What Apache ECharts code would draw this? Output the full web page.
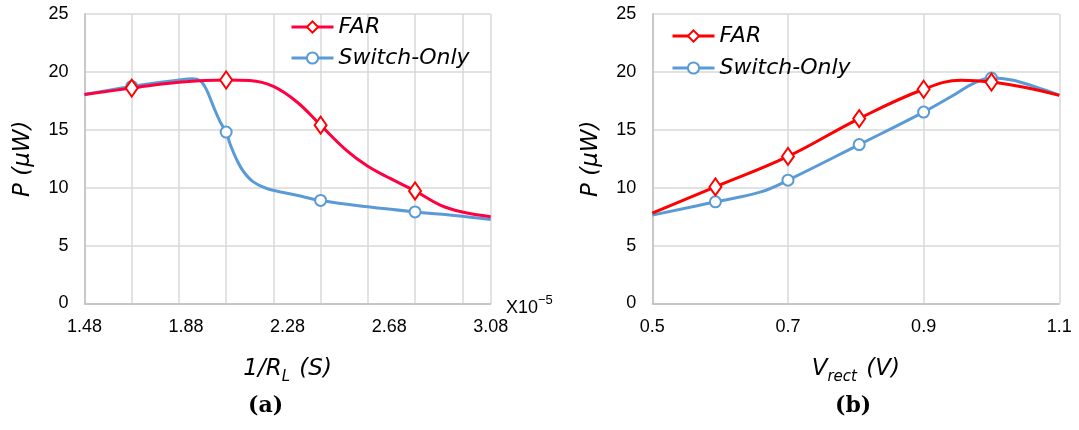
<!DOCTYPE html>
<html><head><meta charset="utf-8">
<script src="https://cdn.jsdelivr.net/npm/echarts@6/dist/echarts.min.js"></script>
<style>html,body{margin:0;padding:0;background:#fff}#c{width:1079px;height:430px}</style>
</head><body><div id="c"></div>
<script>
// ---------- data ----------
const seriesNames = ['FAR', 'Switch-Only'];
const yMin = 0, yMax = 25, yStep = 5;

// Panel (a): x = 1/R_L in units of 1e-5 S
const aTickLabels = [1.48, 1.88, 2.28, 2.68, 3.08];
const aGridLines = [1.48, 1.666, 1.852, 2.038, 2.224, 2.410, 2.596, 2.782, 2.968, 3.08];
const aFarX = [1.48, 1.666, 1.852, 2.038, 2.131, 2.224, 2.317, 2.410, 2.513, 2.596, 2.684, 2.782, 2.881, 2.968, 3.08];
const aFarY = [18.05, 18.6, 19.1, 19.3, 19.25, 18.75, 17.4, 15.4, 13.2, 11.85, 10.8, 9.72, 8.5, 7.9, 7.5];
const aFarMark = [0, 1, 0, 1, 0, 0, 0, 1, 0, 0, 0, 1, 0, 0, 0];
const aSwX = [1.48, 1.666, 1.852, 1.905, 1.935, 1.952, 1.968, 1.988, 2.014, 2.038, 2.053, 2.080, 2.106, 2.145, 2.198, 2.316, 2.410, 2.596, 2.782, 2.968, 3.08];
const aSwY = [18.05, 18.75, 19.3, 19.4, 19.25, 18.8, 18.1, 17.0, 15.7, 14.8, 13.8, 12.4, 11.4, 10.5, 9.93, 9.35, 8.9, 8.35, 7.91, 7.54, 7.26];
const aSwMark = [0, 1, 0, 0, 0, 0, 0, 0, 0, 1, 0, 0, 0, 0, 0, 0, 1, 0, 1, 0, 0];

// Panel (b): x = V_rect (V)
const bTickLabels = [0.5, 0.7, 0.9, 1.1];
const bFarX = [0.5, 0.593, 0.7, 0.805, 0.9, 0.955, 1.0, 1.05, 1.1];
const bFarY = [7.8, 10.07, 12.7, 15.97, 18.5, 19.27, 19.12, 18.65, 17.97];
const bFarMark = [0, 1, 1, 1, 1, 0, 1, 0, 0];
const bSwX = [0.5, 0.593, 0.66, 0.7, 0.805, 0.9, 0.94, 0.975, 1.0, 1.03, 1.065, 1.1];
const bSwY = [7.63, 8.78, 9.64, 10.65, 13.72, 16.53, 17.85, 19.05, 19.47, 19.3, 18.7, 18.0];
const bSwMark = [0, 1, 0, 1, 1, 1, 0, 0, 1, 0, 0, 0];

// ---------- build ----------
function pts(xs, ys, marks, sym) {
  return xs.map((x, i) => ({ value: [x, ys[i]], symbol: marks[i] ? sym : 'none' }));
}
const GRID = '#D9D9D9', AXIS = '#BFBFBF';
const RED_A = '#FF0040', RED = '#FF0000', BLUE = '#5B9BD5';
const italic = { fontFamily: 'DejaVu Sans', fontStyle: 'italic', color: '#000' };
const tickFont = { fontFamily: 'Liberation Sans', fontSize: 18, color: '#000' };

function xAxisCfg(grid, min, max, gridVals, labelVals, dec, nameRich) {
  return {
    gridIndex: grid, type: 'value', min: min, max: max,
    axisLine: { show: true, lineStyle: { color: AXIS, width: 1.5 } },
    axisTick: { show: false, customValues: gridVals },
    splitLine: { show: true, lineStyle: { color: GRID, width: 1.5 } },
    axisLabel: Object.assign({ customValues: labelVals, formatter: v => Number(v).toFixed(dec), margin: 15 }, tickFont),
    name: nameRich.text, nameLocation: 'middle', nameGap: 51,
    nameTextStyle: { rich: nameRich.rich }
  };
}
function yAxisCfg(grid) {
  return {
    gridIndex: grid, type: 'value', min: yMin, max: yMax, interval: yStep,
    axisLine: { show: true, lineStyle: { color: AXIS, width: 1.5 } },
    axisTick: { show: false },
    splitLine: { show: true, lineStyle: { color: GRID, width: 1.5 } },
    axisLabel: Object.assign({ margin: 16 }, tickFont),
    name: 'P (μW)', nameLocation: 'middle', nameGap: 50,
    nameTextStyle: Object.assign({ fontSize: 23 }, italic)
  };
}
const richBase = {
  i: Object.assign({ fontSize: 23, lineHeight: 30, verticalAlign: 'middle' }, italic),
  s: Object.assign({ fontSize: 15, lineHeight: 30, verticalAlign: 'bottom', padding: [0, 2, 0, 0] }, italic)
};

function lineSeries(name, xi, data, lineColor, markColor, sym, size, z) {
  return {
    type: 'line', name: name, xAxisIndex: xi, yAxisIndex: xi, data: data,
    smooth: 0.4, symbol: sym, symbolSize: size, z: z,
    lineStyle: { color: lineColor, width: 3 },
    itemStyle: { color: markColor, borderWidth: 1.6 },
    emphasis: { disabled: true }
  };
}

const legendBase = {
  orient: 'vertical', padding: 0, itemWidth: 42, itemHeight: 14,
  lineStyle: { width: 3 },
  textStyle: Object.assign({ fontSize: 22, lineHeight: 22 }, italic),
  selectedMode: false
};

const option = {
  animation: false,
  backgroundColor: '#fff',
  grid: [
    { left: 84.5, top: 14, width: 406.2, height: 289.5, containLabel: false, outerBoundsMode: 'none' },
    { left: 652.3, top: 14, width: 407, height: 289.5, containLabel: false, outerBoundsMode: 'none' }
  ],
  xAxis: [
    xAxisCfg(0, 1.48, 3.08, aGridLines, aTickLabels, 2, { text: '{i|1/R}{s|L}{i| (S)}', rich: richBase }),
    xAxisCfg(1, 0.5, 1.1, bTickLabels, bTickLabels, 1, { text: '{i|V}{s|rect}{i| (V)}', rich: richBase })
  ],
  yAxis: [yAxisCfg(0), yAxisCfg(1)],
  legend: [
    Object.assign({}, legendBase, {
      left: 290, top: 16, itemGap: 9,
      data: seriesNames.map(n => ({ name: n, lineStyle: { width: 3 } }))
    }),
    Object.assign({}, legendBase, {
      left: 671, top: 25, itemGap: 10,
      data: [{ name: seriesNames[0], lineStyle: { color: RED, width: 3 } }, { name: seriesNames[1], lineStyle: { width: 3 } }]
    })
  ],
  title: [
    { text: '(a)', left: 248, top: 395, padding: 0, textStyle: { fontFamily: 'DejaVu Serif', fontWeight: 'bold', fontSize: 22, color: '#000' } },
    { text: '(b)', left: 835, top: 395, padding: 0, textStyle: { fontFamily: 'DejaVu Serif', fontWeight: 'bold', fontSize: 22, color: '#000' } }
  ],
  graphic: [
    {
      type: 'text', left: 506, top: 294,
      style: {
        text: '{a|X10}{b|−5}',
        rich: {
          a: { fontFamily: 'Liberation Sans', fontSize: 18, lineHeight: 28, verticalAlign: 'bottom', fill: '#000' },
          b: { fontFamily: 'Liberation Sans', fontSize: 13, lineHeight: 28, verticalAlign: 'middle', fill: '#000', padding: [0, 0, 6, 0] }
        }
      }
    }
  ],
  series: [
    lineSeries(seriesNames[1], 0, pts(aSwX, aSwY, aSwMark, 'emptyCircle'), BLUE, BLUE, 'emptyCircle', 11, 2),
    lineSeries(seriesNames[0], 0, pts(aFarX, aFarY, aFarMark, 'emptyDiamond'), RED_A, RED, 'emptyDiamond', [12, 17], 3),
    lineSeries(seriesNames[1], 1, pts(bSwX, bSwY, bSwMark, 'emptyCircle'), BLUE, BLUE, 'emptyCircle', 11, 2),
    lineSeries(seriesNames[0], 1, pts(bFarX, bFarY, bFarMark, 'emptyDiamond'), RED, RED, 'emptyDiamond', [12, 17], 3)
  ]
};
const chart = echarts.init(document.getElementById('c'), null, { renderer: 'canvas' });
chart.setOption(option);
</script>
</body></html>
